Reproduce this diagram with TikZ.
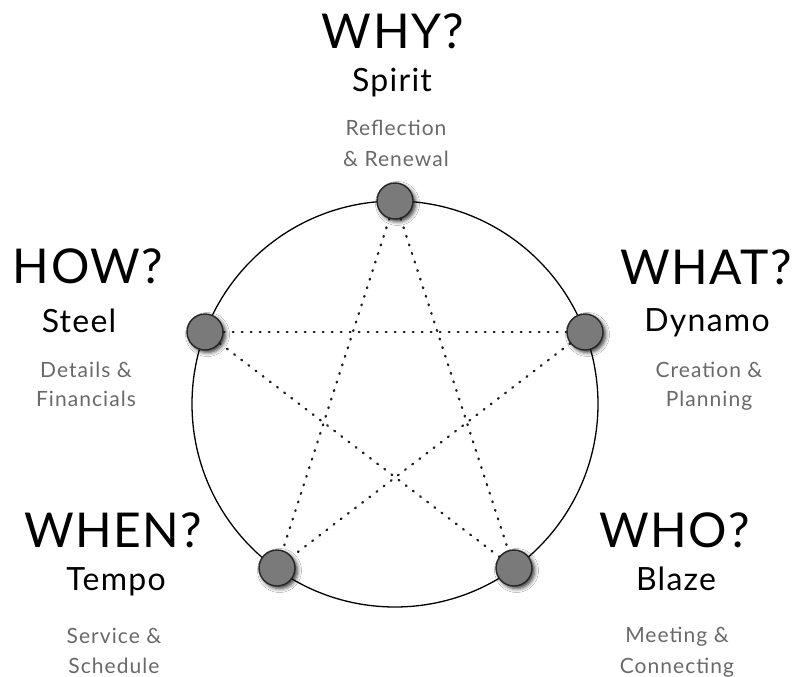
\documentclass[tikz,border=0pt]{standalone}
\usepackage{fontspec}
\setmainfont{Lato}
\usetikzlibrary{shadows.blur}
\definecolor{ballfill}{RGB}{122,122,122}
\definecolor{subgray}{RGB}{105,105,105}
\definecolor{dotgray}{RGB}{30,30,30}
\begin{document}
\begin{tikzpicture}[x=1pt,y=-1pt,
  ball/.style={circle, draw=black!85, line width=1.4pt, fill=ballfill, minimum size=36pt, inner sep=0pt,
    blur shadow={shadow xshift=2.5pt, shadow yshift=-2.5pt, shadow blur radius=4pt, shadow opacity=80}},
  dotline/.style={draw=dotgray, line width=2.3pt, line cap=round, dash pattern=on 0.9pt off 8.1pt},
  big/.style={anchor=base, inner sep=0pt, font=\fontsize{48}{48}\selectfont\addfontfeatures{LetterSpace=3}},
  mid/.style={anchor=base, inner sep=0pt, font=\fontsize{32}{32}\selectfont\addfontfeatures{LetterSpace=4}},
  small/.style={anchor=base, inner sep=0pt, text=subgray, font=\fontsize{21}{30}\selectfont\addfontfeatures{LetterSpace=5}}]
\useasboundingbox (0,0) rectangle (798,677);
\fill[white] (0,0) rectangle (798,677);
\node[draw=black, line width=1.3pt, circle, minimum size=406pt, inner sep=0pt] (ring) at (395,404) {};
\node[ball] (why) at (395,201) {};
\node[ball] (how) at (205,332) {};
\node[ball] (what) at (585,332) {};
\node[ball] (when) at (277,568) {};
\node[ball] (who) at (514,568) {};
\draw[dotline] (why) -- (when);
\draw[dotline] (why) -- (who);
\draw[dotline] (how) -- (what);
\draw[dotline] (how) -- (who);
\draw[dotline] (what) -- (when);
% labels
\node[big] (twhy) at (393,49) {WHY?};
\node[mid] (swhy) at (392,92) {Spirit};
\node[small] (dwhy1) at (396,135) {Reflection};
\node[small] (dwhy2) at (396,166) {\& Renewal};
\node[big] (thow) at (88,283) {HOW?};
\node[mid] (show) at (79,332) {Steel};
\node[small] (dhow1) at (86,377) {Details \&};
\node[small] (dhow2) at (86,406) {Financials};
\node[big] (twhat) at (706,284) {WHAT?};
\node[mid] (swhat) at (707,331) {Dynamo};
\node[small] (dwhat1) at (709,377) {Creation \&};
\node[small] (dwhat2) at (709,406) {Planning};
\node[big] (twhen) at (113,547) {WHEN?};
\node[mid] (swhen) at (116,590) {Tempo};
\node[small] (dwhen1) at (114,643) {Service \&};
\node[small] (dwhen2) at (114,673) {Schedule};
\node[big] (twho) at (675,547) {WHO?};
\node[mid] (swho) at (676,590) {Blaze};
\node[small] (dwho1) at (677,642) {Meeting \&};
\node[small] (dwho2) at (677,673) {Connecting};
\end{tikzpicture}
\end{document}
